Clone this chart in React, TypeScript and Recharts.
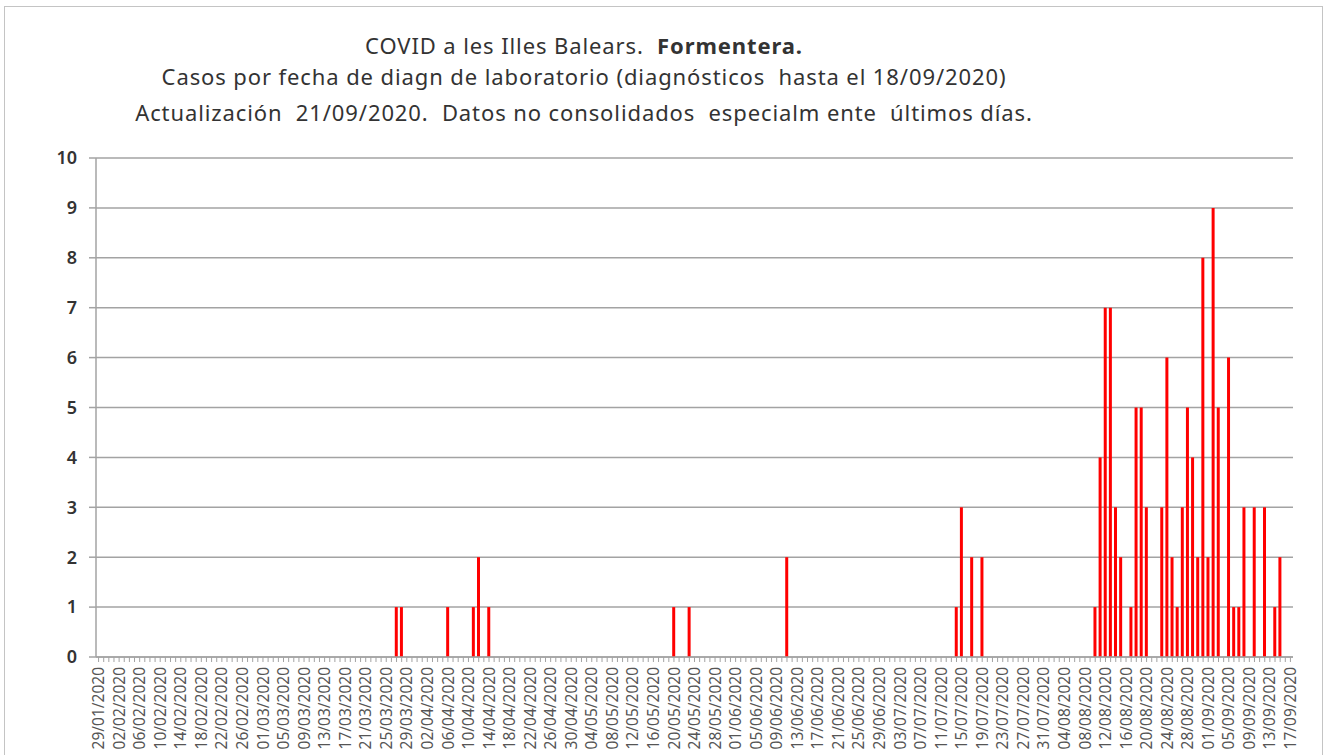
import React from "react";
import { BarChart, Bar, XAxis, YAxis, CartesianGrid } from "recharts";

// one category per day, 29/01/2020 .. 17/09/2020
const FIRST_DAY = Date.UTC(2020, 0, 29);
const DAY_COUNT = 233;

// days with cases, everything else is 0
const CASE_DATES = [
  "27/03/2020", "28/03/2020", "06/04/2020", "11/04/2020", "12/04/2020", "14/04/2020",
  "20/05/2020", "23/05/2020", "11/06/2020",
  "14/07/2020", "15/07/2020", "17/07/2020", "19/07/2020",
  "10/08/2020", "11/08/2020", "12/08/2020", "13/08/2020", "14/08/2020", "15/08/2020",
  "17/08/2020", "18/08/2020", "19/08/2020", "20/08/2020", "23/08/2020", "24/08/2020",
  "25/08/2020", "26/08/2020", "27/08/2020", "28/08/2020", "29/08/2020", "30/08/2020",
  "31/08/2020", "01/09/2020", "02/09/2020", "03/09/2020", "05/09/2020", "06/09/2020",
  "07/09/2020", "08/09/2020", "10/09/2020", "12/09/2020", "14/09/2020", "15/09/2020",
];
const CASE_VALUES = [
  1, 1, 1, 1, 2, 1,
  1, 1, 2,
  1, 3, 2, 2,
  1, 4, 7, 7, 3, 2,
  1, 5, 5, 3, 3, 6,
  2, 1, 3, 5, 4, 2,
  8, 2, 9, 5, 6, 1,
  1, 3, 3, 3, 1, 2,
];

const Y_TICKS = [0, 1, 2, 3, 4, 5, 6, 7, 8, 9, 10];

const TITLE = "COVID a les Illes Balears.  ";
const TITLE_BOLD = "Formentera.";
const SUBTITLE = "Casos por fecha de diagn de laboratorio (diagnósticos  hasta el 18/09/2020)";
const NOTE = "Actualización  21/09/2020.  Datos no consolidados  especialm ente  últimos días.";

const pad = (n: number) => (n < 10 ? "0" + n : "" + n);

const DATES: string[] = [];
for (let i = 0; i < DAY_COUNT; i++) {
  const d = new Date(FIRST_DAY + i * 86400000);
  DATES.push(`${pad(d.getUTCDate())}/${pad(d.getUTCMonth() + 1)}/${d.getUTCFullYear()}`);
}

const data = DATES.map((date) => {
  const k = CASE_DATES.indexOf(date);
  return { date, casos: k >= 0 ? CASE_VALUES[k] : 0 };
});

const GRID = "#a3a3a3";
const FONT = "'Noto Sans', 'Open Sans', sans-serif";

function DayTick(props: any) {
  const { x, y, payload, index } = props;
  return (
    <g transform={`translate(${x},${y})`}>
      <line x1={0} x2={0} y1={0} y2={5} stroke={GRID} strokeWidth={1} />
      {index % 4 === 0 && (
        <text
          transform="rotate(-90)"
          x={-10}
          y={0}
          dy="0.36em"
          textAnchor="end"
          fontSize={15.5}
          fontFamily={FONT}
          fill="#555"
        >
          {payload.value}
        </text>
      )}
    </g>
  );
}

const titleLine = (top: number): React.CSSProperties => ({
  position: "absolute",
  left: 84,
  width: 1000,
  top,
  textAlign: "center",
  color: "#333",
  fontSize: 22,
  letterSpacing: 0.9,
  lineHeight: "30px",
  whiteSpace: "pre",
});

export default function App() {
  return (
    <div
      style={{
        position: "absolute",
        left: 0,
        top: 0,
        width: 1335,
        height: 755,
        overflow: "hidden",
        background: "#fff",
        fontFamily: FONT,
      }}
    >
      <div
        style={{
          position: "absolute",
          left: 4,
          top: 6,
          width: 1317,
          height: 800,
          border: "1px solid #c4c4c4",
        }}
      />
      <div style={titleLine(30)}>
        {TITLE}
        <b>{TITLE_BOLD}</b>
      </div>
      <div style={titleLine(61)}>{SUBTITLE}</div>
      <div style={titleLine(97)}>{NOTE}</div>
      <div style={{ position: "absolute", left: 0, top: 0 }}>
        <BarChart
          width={1335}
          height={755}
          data={data}
          margin={{ top: 158, right: 42, bottom: 0, left: 0 }}
          barCategoryGap="16%"
        >
          <CartesianGrid vertical={false} stroke={GRID} strokeWidth={1.5} />
          <XAxis
            dataKey="date"
            interval={0}
            height={98}
            tickLine={false}
            tickSize={0}
            tickMargin={0}
            axisLine={{ stroke: GRID, strokeWidth: 1.5 }}
            tick={<DayTick />}
          />
          <YAxis
            domain={[0, 10]}
            ticks={Y_TICKS}
            interval={0}
            width={96}
            tickSize={7}
            tickMargin={12}
            axisLine={{ stroke: GRID, strokeWidth: 1.5 }}
            tickLine={{ stroke: GRID, strokeWidth: 1.5 }}
            tick={{ fontSize: 18, fontWeight: 600, fill: "#333", fontFamily: FONT }}
          />
          <Bar dataKey="casos" fill="#ff0000" isAnimationActive={false} />
        </BarChart>
      </div>
    </div>
  );
}
